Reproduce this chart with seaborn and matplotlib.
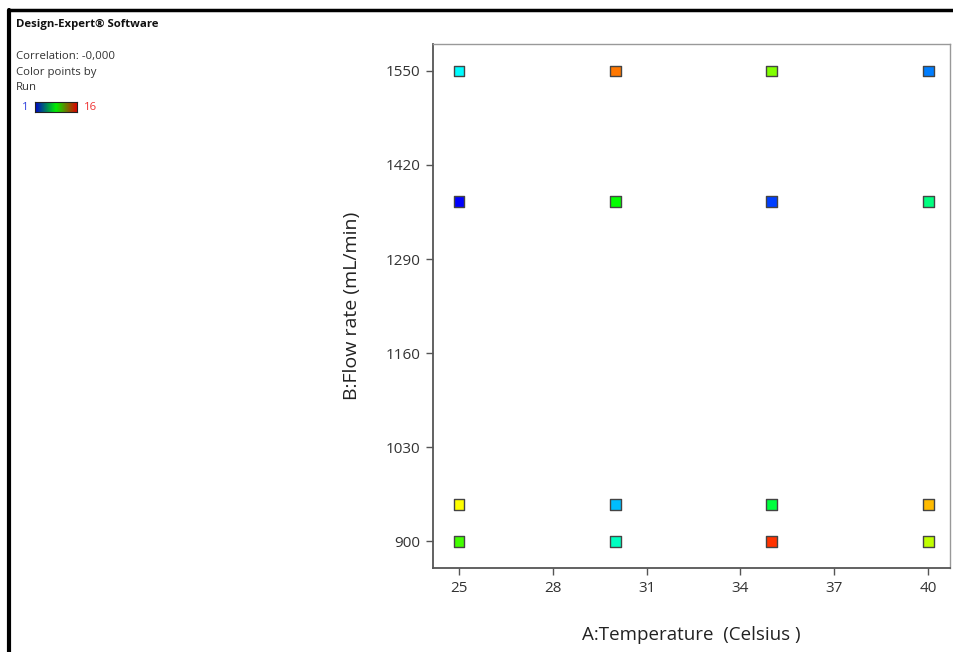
import matplotlib.pyplot as plt
import numpy as np
import seaborn as sns
import pandas as pd
from matplotlib.colors import LinearSegmentedColormap

# design points (run order -> A, B)
run = [1, 2, 3, 4, 5, 6, 7, 8, 9, 10, 11, 12, 13, 14, 15, 16]
temperature = [25, 35, 40, 30, 25, 30, 40, 35, 30, 25, 35, 40, 25, 40, 30, 35]
flow_rate = [1370, 1370, 1550, 950, 1550, 900, 1370, 950, 1370, 900, 1550, 900, 950, 950, 1550, 900]

x_ticks = [25, 28, 31, 34, 37, 40]
y_ticks = [900, 1030, 1160, 1290, 1420, 1550]

sns.set_style("ticks")
plt.rcParams['font.family'] = ['Open Sans', 'DejaVu Sans']

df = pd.DataFrame({"run": run, "A": temperature, "B": flow_rate})

# blue -> cyan -> green -> yellow -> red, like the Design-Expert run scale
run_cmap = LinearSegmentedColormap.from_list(
    "run", [(0.0, "#0000ff"), (0.27, "#00ffff"), (0.53, "#00ff00"),
            (0.8, "#ffff00"), (1.0, "#ff3300")])
# the small legend bar looks like a plain blue-green-red ramp
bar_cmap = LinearSegmentedColormap.from_list("bar", ["#0000cc", "#00ee00", "#dd0000"])

fig = plt.figure(figsize=(9.54, 6.52), dpi=100)
ax = fig.add_axes([0.4539, 0.1288, 0.5419, 0.8037])

sns.scatterplot(data=df, x="A", y="B", hue="run", palette=run_cmap, hue_norm=(1, 16),
                marker="s", s=62, edgecolor="#444444", linewidth=1.0, legend=False, ax=ax)

ax.set_xlim(24.17, 40.70)
ax.set_ylim(862.7, 1587.3)
ax.set_xticks(x_ticks)
ax.set_yticks(y_ticks)
ax.tick_params(axis="both", direction="out", length=5, width=1, color="#555555",
               labelsize=11, labelcolor="#333333", pad=4)
for side in ["left", "bottom"]:
    ax.spines[side].set_color("#555555")
    ax.spines[side].set_linewidth(1.3)
for side in ["top", "right"]:
    ax.spines[side].set_visible(True)
    ax.spines[side].set_color("#999999")
    ax.spines[side].set_linewidth(1.0)

ax.set_xlabel("A:Temperature  (Celsius )", fontsize=13.5, color="#222222", labelpad=22)
ax.set_ylabel("B:Flow rate (mL/min)", fontsize=14, color="#222222", labelpad=18)

# header text on the left
fs = 8.2
fig.text(16 / 954, 1 - 24 / 652, "Design-Expert® Software", fontsize=fs,
         fontweight="bold", va="center", ha="left", color="#111111")
fig.text(16 / 954, 1 - 56 / 652, "Correlation: -0,000", fontsize=fs, va="center", color="#333333")
fig.text(16 / 954, 1 - 72 / 652, "Color points by", fontsize=fs, va="center", color="#333333")
fig.text(16 / 954, 1 - 87 / 652, "Run", fontsize=fs, va="center", color="#333333")
fig.text(22 / 954, 1 - 107 / 652, "1", fontsize=fs, va="center", color="#3344dd")
fig.text(84 / 954, 1 - 107 / 652, "16", fontsize=fs, va="center", color="#ee3333")

cax = fig.add_axes([35 / 954, 1 - 112 / 652, 42 / 954, 10 / 652])
cax.imshow(np.linspace(0, 1, 256)[None, :], aspect="auto", cmap=bar_cmap)
cax.set_xticks([])
cax.set_yticks([])
for sp in cax.spines.values():
    sp.set_color("#222222")
    sp.set_linewidth(0.8)

# black frame lines (top and left)
fig.add_artist(plt.Line2D([9 / 954, 1], [1 - 10 / 652, 1 - 10 / 652], color="black", lw=2.5,
                          transform=fig.transFigure))
fig.add_artist(plt.Line2D([9 / 954, 9 / 954], [0, 1 - 10 / 652], color="black", lw=3,
                          transform=fig.transFigure))

plt.savefig("out.png", dpi=100)
